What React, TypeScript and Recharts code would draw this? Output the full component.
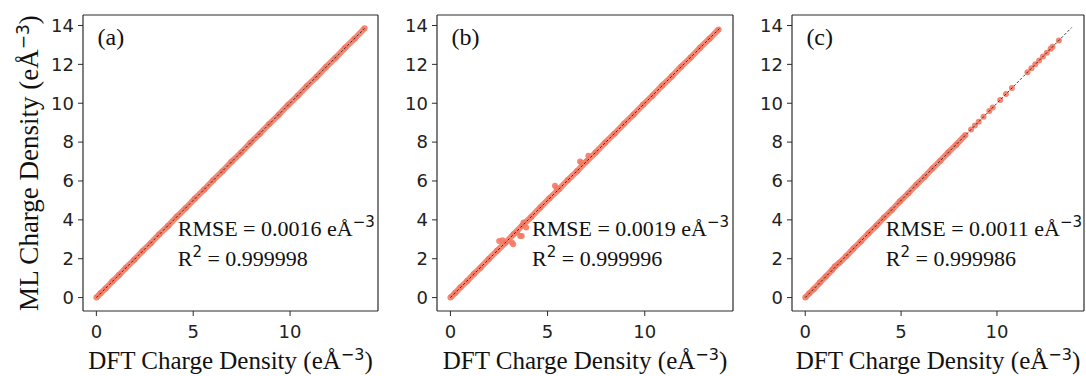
import React from 'react'
import { ScatterChart, Scatter, XAxis, YAxis, ReferenceDot, ReferenceLine } from 'recharts'

const xTicks = [0, 5, 10]
const yTicks = [0, 2, 4, 6, 8, 10, 12, 14]
const axisDomain: [number, number] = [-0.69, 14.54]

const panelTags = ['(a)', '(b)', '(c)']
const rmseValues = ['0.0016', '0.0019', '0.0011']
const r2Values = ['0.999998', '0.999996', '0.999986']

// parity line y = x
const diagAB = [0, 13.85]
const diagC = [0, 13.9]

// (a) dense band
const dftA = [0.0, 0.21, 0.48, 0.83, 1.17, 1.52, 1.96, 2.38, 2.81, 3.24, 3.69, 4.15, 4.62, 5.08, 5.57, 6.03, 6.51, 6.98, 7.46, 7.95, 8.43, 8.92, 9.41, 9.9, 10.39, 10.88, 11.37, 11.86, 12.35, 12.84, 13.33, 13.85]
const mlA = [0.0, 0.22, 0.47, 0.84, 1.16, 1.53, 1.95, 2.39, 2.8, 3.25, 3.68, 4.16, 4.61, 5.09, 5.56, 6.04, 6.5, 6.99, 7.45, 7.96, 8.42, 8.93, 9.4, 9.91, 10.38, 10.89, 11.36, 11.87, 12.34, 12.85, 13.32, 13.86]

// (b) band + scattered outliers
const dftB = [0.0, 0.24, 0.52, 0.86, 1.2, 1.55, 1.98, 2.4, 2.83, 3.26, 3.7, 4.16, 4.63, 5.09, 5.58, 6.04, 6.52, 6.99, 7.47, 7.96, 8.44, 8.93, 9.42, 9.91, 10.4, 10.89, 11.38, 11.87, 12.36, 12.85, 13.34, 13.8]
const mlB = [0.0, 0.23, 0.53, 0.85, 1.21, 1.54, 1.99, 2.41, 2.82, 3.27, 3.71, 4.15, 4.64, 5.1, 5.57, 6.05, 6.51, 7.0, 7.46, 7.97, 8.43, 8.94, 9.41, 9.92, 10.39, 10.9, 11.37, 11.88, 12.35, 12.86, 13.33, 13.8]
const dftBOut = [2.51, 2.68, 3.16, 3.23, 3.42, 3.59, 3.67, 3.76, 3.9, 5.38, 5.46, 6.67, 6.75, 7.1]
const mlBOut = [2.91, 2.95, 2.83, 2.74, 3.36, 3.17, 3.17, 3.86, 3.6, 5.75, 5.62, 7.0, 6.92, 7.3]

// (c) continuous up to ~8.4, sparse above
const dftC = [0.0, 0.2, 0.45, 0.76, 1.08, 1.4, 1.55, 1.78, 2.15, 2.52, 2.9, 3.3, 3.7, 4.11, 4.52, 4.95, 5.38, 5.8, 6.22, 6.63, 7.05, 7.46, 7.88, 8.36]
const mlC = [0.0, 0.21, 0.44, 0.77, 1.09, 1.42, 1.6, 1.79, 2.14, 2.53, 2.89, 3.31, 3.69, 4.12, 4.51, 4.96, 5.37, 5.81, 6.21, 6.64, 7.04, 7.47, 7.87, 8.37]
const dftCSparse = [8.65, 8.85, 9.05, 9.3, 9.6, 9.78, 10.17, 10.47, 10.78, 11.59, 11.8, 12.0, 12.2, 12.4, 12.6, 12.8, 12.9, 13.23]
const mlCSparse = [8.65, 8.85, 9.05, 9.3, 9.6, 9.78, 10.17, 10.47, 10.78, 11.59, 11.8, 12.0, 12.2, 12.4, 12.6, 12.8, 12.9, 13.23]

const SALMON = '#f47a64'
const AXIS = '#2b2b2b'
const SERIF = '"Liberation Serif", "Times New Roman", serif'
const SANS = '"DejaVu Sans", sans-serif'

const zip = (xs: number[], ys: number[]) => xs.map((x, i) => ({ x, y: ys[i] }))

const dot = (p: any) => <circle cx={p.cx} cy={p.cy} r={3} fill={SALMON} fillOpacity={0.9} />
const none = () => <g />

function Sup({ text, size = 16 }: { text: string; size?: number }) {
  return (
    <tspan dy={-9} fontFamily={SANS} fontSize={size}>
      {text}
    </tspan>
  )
}

type PanelProps = {
  idx: number
  plotLeft: number
  plotWidth: number
  band: { x: number; y: number }[]
  extra: { x: number; y: number }[]
  diag: number[]
  yLabel?: boolean
}

function Panel({ idx, plotLeft, plotWidth, band, extra, diag, yLabel }: PanelProps) {
  const yAxisW = 83
  const diagData = zip(diag, diag)
  return (
    <div style={{ position: 'absolute', left: plotLeft - yAxisW, top: 0 }}>
      <ScatterChart width={yAxisW + plotWidth + 4} height={376} margin={{ top: 15, right: 4, left: 0, bottom: 0 }}>
        <XAxis
          dataKey="x"
          type="number"
          domain={axisDomain}
          ticks={xTicks}
          allowDataOverflow
          height={65}
          tickSize={5}
          tickMargin={9}
          tick={{ fill: '#222', fontSize: 18, fontFamily: SANS }}
          axisLine={{ stroke: AXIS, strokeWidth: 1.2 }}
          tickLine={{ stroke: AXIS }}
          label={{
            content: (p: any) => {
              const vb = p.viewBox
              return (
                <text x={vb.x + vb.width / 2} y={vb.y + 58} textAnchor="middle" fontFamily={SERIF} fontSize={25} fill="#111">
                  DFT Charge Density (eÅ<Sup text="−3" />
                  <tspan dy={9}>)</tspan>
                </text>
              )
            },
          }}
        />
        <YAxis
          dataKey="y"
          type="number"
          domain={axisDomain}
          ticks={yTicks}
          allowDataOverflow
          width={yAxisW}
          tickSize={5}
          tickMargin={4}
          tick={{ fill: '#222', fontSize: 18, fontFamily: SANS }}
          axisLine={{ stroke: AXIS, strokeWidth: 1.2 }}
          tickLine={{ stroke: AXIS }}
          label={
            yLabel
              ? {
                  content: (p: any) => {
                    const vb = p.viewBox
                    const cx = 38
                    const cy = vb.y + vb.height / 2
                    return (
                      <text x={cx} y={cy} transform={`rotate(-90 ${cx} ${cy})`} textAnchor="middle" fontFamily={SERIF} fontSize={27} fill="#111">
                        ML Charge Density (eÅ<Sup text="−3" size={17} />
                        <tspan dy={9}>)</tspan>
                      </text>
                    )
                  },
                }
              : undefined
          }
        />

        {/* box frame: top and right edges */}
        <ReferenceLine y={axisDomain[1]} stroke={AXIS} strokeWidth={1.2} ifOverflow="visible" />
        <ReferenceLine x={axisDomain[1]} stroke={AXIS} strokeWidth={1.2} ifOverflow="visible" />

        <Scatter data={band} shape={dot} line={{ stroke: SALMON, strokeWidth: 6, strokeOpacity: 0.9 }} lineType="joint" isAnimationActive={false} />
        <Scatter data={extra} shape={dot} isAnimationActive={false} />
        <Scatter data={diagData} shape={none} line={{ stroke: '#222', strokeWidth: 0.9, strokeDasharray: '2.5 2' }} lineType="joint" isAnimationActive={false} />

        <ReferenceDot
          x={0.06}
          y={13.0}
          r={0}
          ifOverflow="visible"
          shape={(p: any) => (
            <text x={p.cx} y={p.cy} fontFamily={SERIF} fontSize={24} fill="#111">
              {panelTags[idx]}
            </text>
          )}
        />
        <ReferenceDot
          x={4.2}
          y={3.15}
          r={0}
          ifOverflow="visible"
          shape={(p: any) => (
            <g>
              <text x={p.cx} y={p.cy} fontFamily={SERIF} fontSize={22} fill="#111">
                RMSE = {rmseValues[idx]} eÅ<Sup text="−3" size={15} />
              </text>
              <text x={p.cx} y={p.cy + 30} fontFamily={SERIF} fontSize={22} fill="#111">
                R<Sup text="2" size={15} />
                <tspan dy={9}> = {r2Values[idx]}</tspan>
              </text>
            </g>
          )}
        />
      </ScatterChart>
    </div>
  )
}

export default function App() {
  return (
    <div style={{ position: 'absolute', left: 0, top: 0, width: 1086, height: 376, background: '#fff' }}>
      <Panel idx={0} plotLeft={83} plotWidth={295} band={zip(dftA, mlA)} extra={[]} diag={diagAB} yLabel />
      <Panel idx={1} plotLeft={437} plotWidth={296} band={zip(dftB, mlB)} extra={zip(dftBOut, mlBOut)} diag={diagAB} />
      <Panel idx={2} plotLeft={792} plotWidth={292} band={zip(dftC, mlC)} extra={zip(dftCSparse, mlCSparse)} diag={diagC} />
    </div>
  )
}
